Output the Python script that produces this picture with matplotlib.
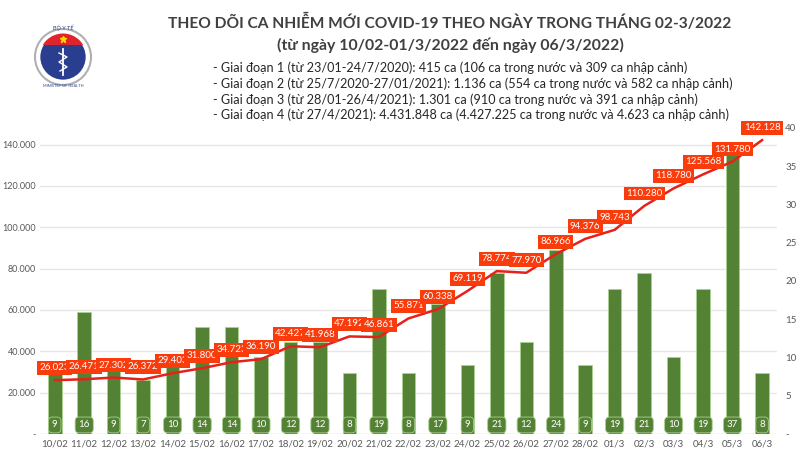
import matplotlib
matplotlib.use("Agg")
import matplotlib.pyplot as plt
from matplotlib.patches import Circle, Rectangle
import numpy as np

plt.rcParams["font.family"] = ["Lato", "Noto Sans", "DejaVu Sans"]

# Data
dates = ["10/02", "11/02", "12/02", "13/02", "14/02", "15/02", "16/02", "17/02",
         "18/02", "19/02", "20/02", "21/02", "22/02", "23/02", "24/02", "25/02",
         "26/02", "27/02", "28/02", "01/3", "02/3", "03/3", "04/3", "05/3", "06/3"]
cases = [26023, 26471, 27302, 26372, 29403, 31800, 34723, 36190, 42427, 41968,
         47192, 46861, 55871, 60338, 69119, 78774, 77970, 86966, 94376, 98743,
         110280, 118780, 125568, 131780, 142128]
deaths = [9, 16, 9, 7, 10, 14, 14, 10, 12, 12, 8, 19, 8, 17, 9, 21, 12, 24, 9,
          19, 21, 10, 19, 37, 8]

title_1 = "THEO DÕI CA NHIỄM MỚI COVID-19 THEO NGÀY TRONG THÁNG 02-3/2022"
title_2 = "(từ ngày 10/02-01/3/2022 đến ngày 06/3/2022)"
notes = [
    "- Giai đoạn 1 (từ 23/01-24/7/2020): 415 ca (106 ca trong nước và 309 ca nhập cảnh)",
    "- Giai đoạn 2 (từ 25/7/2020-27/01/2021): 1.136 ca (554 ca trong nước và 582 ca nhập cảnh)",
    "- Giai đoạn 3 (từ 28/01-26/4/2021): 1.301 ca (910 ca trong nước và 391 ca nhập cảnh)",
    "- Giai đoạn 4 (từ 27/4/2021): 4.431.848 ca (4.427.225 ca trong nước và 4.623 ca nhập cảnh)",
]

GREEN = "#548235"
RED = "#e8201a"
LABEL_RED = "#fa3c0c"
GRAY = "#595959"

CASE_MAX = 148000
DEATH_MAX = 40


def fmt(v):
    return "-" if v == 0 else f"{v:,}".replace(",", ".")


fig = plt.figure(figsize=(8, 4.5), dpi=100)
fig.patch.set_facecolor("white")

ax_bar = fig.add_axes([0.05, 0.0356, 0.921, 0.68])
ax_line = ax_bar.twinx()
x = np.arange(len(dates))

# gridlines for the left (cases) axis, drawn behind the bars
case_ticks = np.arange(0, 140001, 20000)
for t in case_ticks[1:]:
    ax_bar.axhline(t * DEATH_MAX / CASE_MAX, color="#e6e6e6", lw=1, zorder=0)
ax_bar.axhline(0, color="#d0d0d0", lw=1, zorder=0)

ax_bar.bar(x, deaths, width=0.46, color=GREEN, edgecolor="#a9d18e", lw=0.6, zorder=2)
for i, d in enumerate(deaths):
    ax_bar.annotate(str(d), xy=(i, 0), xytext=(0, 6.5), textcoords="offset points",
                    ha="center", va="center", color="white", fontsize=7,
                    bbox=dict(boxstyle="round,pad=0.35,rounding_size=0.4",
                              fc=GREEN, ec="#a9d18e", lw=0.6), zorder=3)

ax_bar.set_ylim(0, DEATH_MAX)
ax_bar.set_xlim(-0.5, len(dates) - 0.5)
ax_bar.yaxis.tick_right()
ax_bar.set_yticks(np.arange(0, 41, 5))
ax_bar.set_yticklabels([fmt(v) for v in range(0, 41, 5)])
ax_bar.set_xticks(x)
ax_bar.set_xticklabels(dates)

ax_line.plot(x, cases, color=RED, lw=1.8, zorder=4)
for i, c in enumerate(cases):
    ax_line.annotate(fmt(c), xy=(i, c), xytext=(0, 9), textcoords="offset points",
                     ha="center", va="center", color="white", fontsize=7,
                     bbox=dict(boxstyle="square,pad=0.25", fc=LABEL_RED, ec="none"),
                     zorder=5, annotation_clip=False)
ax_line.set_ylim(0, CASE_MAX)
ax_line.yaxis.tick_left()
ax_line.set_yticks(case_ticks)
ax_line.set_yticklabels([fmt(v) for v in case_ticks])

for a in (ax_bar, ax_line):
    for s in a.spines.values():
        s.set_visible(False)
    a.tick_params(length=0, colors=GRAY, labelsize=7)
ax_bar.tick_params(axis="x", pad=4)
ax_bar.tick_params(axis="y", pad=6)
ax_line.tick_params(axis="y", pad=3, labelsize=6.5)

# titles and notes
fig.text(0.5625, 1 - 22 / 450, title_1, ha="center", va="center",
         fontsize=11.2, fontweight="bold", color="#404040")
fig.text(0.5625, 1 - 45 / 450, title_2, ha="center", va="center",
         fontsize=11.4, fontweight="bold", color="#404040")
for k, line in enumerate(notes):
    fig.text(213 / 800, 1 - (68 + k * 15.7) / 450, line, ha="left", va="center",
             fontsize=9.1, color="#262626")

# simplified ministry logo
logo = fig.add_axes([30 / 800, 1 - 90 / 450, 66 / 800, 66 / 450])
logo.set_xlim(-33, 33)
logo.set_ylim(-33, 33)
logo.set_aspect("equal")
logo.axis("off")
logo.add_patch(Circle((0, 0), 28, fc="none", ec="#b0b0b0", lw=1.5))
blue = Circle((0, 0), 23.5, fc="#2a3e8f", ec="white", lw=1.2)
logo.add_patch(blue)
cap = Rectangle((-25, 12), 50, 14, fc="#e0242b", ec="none")
logo.add_patch(cap)
cap.set_clip_path(blue)
logo.plot([0, 0], [-18, 8], color="white", lw=1.3)
logo.plot([-4, 4, -4, 4, -3], [4, 0, -5, -10, -14], color="white", lw=1)
logo.plot([0], [18], marker="*", color="#ffd800", ms=5)
logo.text(0, 29, "BỘ Y TẾ", ha="center", va="center", fontsize=4, color="#2a3e8f")
logo.text(0, -29, "MINISTRY OF HEALTH", ha="center", va="center", fontsize=2.8,
          color="#2a3e8f")

fig.savefig("out.png", dpi=100)
